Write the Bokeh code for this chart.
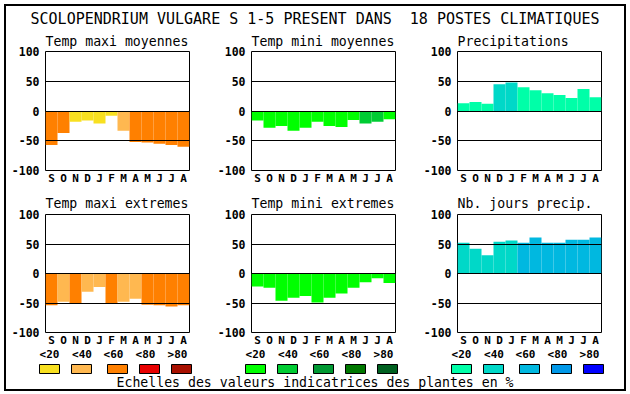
from bokeh.plotting import figure
from bokeh.models import Range1d, FixedTicker, Label, ColumnDataSource, Spacer
from bokeh.layouts import row, column
from bokeh.embed import file_html
from bokeh.resources import INLINE
from bokeh.core.properties import value

# ---------------- data ----------------
title_text = "SCOLOPENDRIUM VULGARE S 1-5 PRESENT DANS\u00a0 18 POSTES CLIMATIQUES"
footer_text = "Echelles des valeurs indicatrices des plantes en %"
months = ["S", "O", "N", "D", "J", "F", "M", "A", "M", "J", "J", "A"]
y_ticks = [-100, -50, 0, 50, 100]
y_tick_labels = ["-100", "-50", "0", "50", "100"]
class_labels = ["<20", "<40", "<60", "<80", ">80"]

panel_titles = ["Temp maxi moyennes", "Temp mini moyennes", "Precipitations",
                "Temp maxi extremes", "Temp mini extremes", "Nb. jours precip."]

tmax_moy = [-57, -37, -18, -16, -21, -8, -33, -52, -53, -55, -57, -60]
tmax_moy_cls = [2, 2, 0, 0, 0, 0, 1, 2, 2, 2, 2, 2]
tmin_moy = [-16, -28, -25, -33, -28, -18, -25, -27, -15, -21, -18, -14]
tmin_moy_cls = [0, 0, 0, 0, 0, 0, 0, 0, 0, 1, 1, 0]
precip = [13, 15, 12, 45, 48, 40, 35, 30, 27, 22, 37, 23]
precip_cls = [0, 0, 0, 1, 1, 0, 0, 0, 0, 0, 0, 0]
tmax_ext = [-54, -48, -50, -31, -23, -50, -48, -43, -53, -54, -56, -54]
tmax_ext_cls = [2, 1, 2, 1, 1, 2, 1, 1, 2, 2, 2, 2]
tmin_ext = [-22, -24, -46, -41, -38, -49, -41, -34, -24, -15, -8, -16]
tmin_ext_cls = [0, 0, 0, 0, 0, 0, 0, 0, 0, 0, 0, 0]
nbjours = [52, 42, 31, 54, 56, 52, 61, 52, 52, 57, 57, 61]
nbjours_cls = [1, 1, 1, 1, 1, 2, 2, 2, 2, 2, 2, 2]

pal_tmax = ["#F8E020", "#FFB850", "#FF8000", "#E80000", "#A81000"]
pal_tmin = ["#00FF00", "#00CC33", "#009933", "#007800", "#006020"]
pal_prec = ["#00FFA8", "#00D8C8", "#00B8E0", "#0098E8", "#0000FF"]

FONT = "DejaVu Sans Mono"

# ---------------- layout constants ----------------
ORIGIN = 4
BORDER = 2
INNER_W, INNER_H = 618, 383
FRAME_W, FRAME_H = 144, 120
col_widths = [208, 206, 204]
col_left = [39, 37, 37]
col_right = [25, 25, 23]
frame_lefts = [39, 245, 451]
TITLE_H = 22
row_tops = [22, 24]
row_bottoms = [20, 15]
title_standoffs = [6, 7]
LEGEND_H = INNER_H - TITLE_H - sum(row_tops) - sum(row_bottoms) - 2 * FRAME_H
legend_swatch_off = [-6, 26, 62, 94, 126]
legend_label_off = [4, 36.5, 68, 100, 132]


def panel(title, vals, cls, pal, c, r):
    h = row_tops[r] + FRAME_H + row_bottoms[r]
    p = figure(width=col_widths[c], height=h,
               x_range=Range1d(0.5, 12.5), y_range=Range1d(-100, 100),
               output_backend="svg", toolbar_location=None, title=title,
               min_border_left=col_left[c], min_border_right=col_right[c],
               min_border_top=row_tops[r], min_border_bottom=row_bottoms[r])
    xs = list(range(1, len(months) + 1))
    src = ColumnDataSource(dict(x=xs, top=[0] * len(vals), bottom=vals,
                                color=[pal[k] for k in cls]))
    p.vbar(x="x", width=1, top="top", bottom="bottom", fill_color="color",
           line_color=None, source=src)
    p.title.text_font = FONT
    p.title.text_font_size = "13.2px"
    p.title.text_font_style = "normal"
    p.title.text_color = "black"
    p.title.align = "left"
    p.title.standoff = title_standoffs[r]
    p.title.offset = 0
    p.xaxis.ticker = FixedTicker(ticks=xs)
    p.xaxis.major_label_overrides = {i: m for i, m in zip(xs, months)}
    p.yaxis.ticker = FixedTicker(ticks=y_ticks)
    p.yaxis.major_label_overrides = {t: s for t, s in zip(y_ticks, y_tick_labels)}
    for ax in (p.xaxis[0], p.yaxis[0]):
        ax.axis_line_color = None
        ax.major_tick_line_color = None
        ax.minor_tick_line_color = None
        ax.major_tick_out = 0
        ax.major_tick_in = 0
        ax.major_label_text_font = FONT
        ax.major_label_text_font_style = "bold"
        ax.major_label_text_color = "black"
    p.xaxis.major_label_text_font_size = "11px"
    p.yaxis.major_label_text_font_size = "11.5px"
    p.xaxis.major_label_standoff = 1
    p.yaxis.major_label_standoff = 6
    p.xgrid.visible = False
    p.ygrid.grid_line_color = "black"
    p.ygrid.grid_line_width = 1
    p.ygrid.level = "overlay"
    p.outline_line_color = "black"
    p.outline_line_width = 1
    p.background_fill_color = "white"
    p.border_fill_color = "white"
    return p


# title strip
tp = figure(width=INNER_W, height=TITLE_H, x_range=Range1d(0, INNER_W),
            y_range=Range1d(TITLE_H, 0), output_backend="svg", toolbar_location=None,
            min_border=0, x_axis_type=None, y_axis_type=None)
tp.grid.visible = False
tp.outline_line_color = None
tp.add_layout(Label(x=308.5, y=12, text=title_text, text_align="center",
                    text_baseline="middle", text_font=FONT, text_font_size="15px",
                    text_color="black"))

series = [(tmax_moy, tmax_moy_cls, pal_tmax), (tmin_moy, tmin_moy_cls, pal_tmin),
          (precip, precip_cls, pal_prec), (tmax_ext, tmax_ext_cls, pal_tmax),
          (tmin_ext, tmin_ext_cls, pal_tmin), (nbjours, nbjours_cls, pal_prec)]
figs = []
for i, (v, c, pal) in enumerate(series):
    figs.append(panel(panel_titles[i], v, c, pal, i % 3, i // 3))

# legend strip
lp = figure(width=INNER_W, height=LEGEND_H, x_range=Range1d(0, INNER_W),
            y_range=Range1d(LEGEND_H, 0), output_backend="svg", toolbar_location=None,
            min_border=0, x_axis_type=None, y_axis_type=None)
lp.grid.visible = False
lp.outline_line_color = None
palettes = [pal_tmax, pal_tmin, pal_prec]
for fl, pal in zip(frame_lefts, palettes):
    lefts = [fl + o for o in legend_swatch_off]
    lp.quad(left=lefts, right=[l + 20 for l in lefts], top=[15] * 5, bottom=[24] * 5,
            fill_color=pal, line_color="black", line_width=1)
    lp.text(x=[fl + o for o in legend_label_off], y=[5] * 5, text=class_labels,
            text_align="center", text_baseline="middle", text_font=value(FONT),
            text_font_size="11px", text_font_style="bold", text_color="black")
lp.text(x=[308.5], y=[33], text=[footer_text], text_align="center", text_baseline="middle",
        text_font=value(FONT), text_font_size="13.2px", text_color="black")

inner = column(tp, row(*figs[:3]), row(*figs[3:]), lp)

black = {"background-color": "black"}
box = column(Spacer(width=INNER_W + 2 * BORDER, height=BORDER, styles=black),
             row(Spacer(width=BORDER, height=INNER_H, styles=black), inner,
                 Spacer(width=BORDER, height=INNER_H, styles=black)),
             Spacer(width=INNER_W + 2 * BORDER, height=BORDER, styles=black))
layout = column(Spacer(width=INNER_W, height=ORIGIN),
                row(Spacer(width=ORIGIN, height=INNER_H), box))

open("out.html", "w").write(file_html(layout, INLINE))
